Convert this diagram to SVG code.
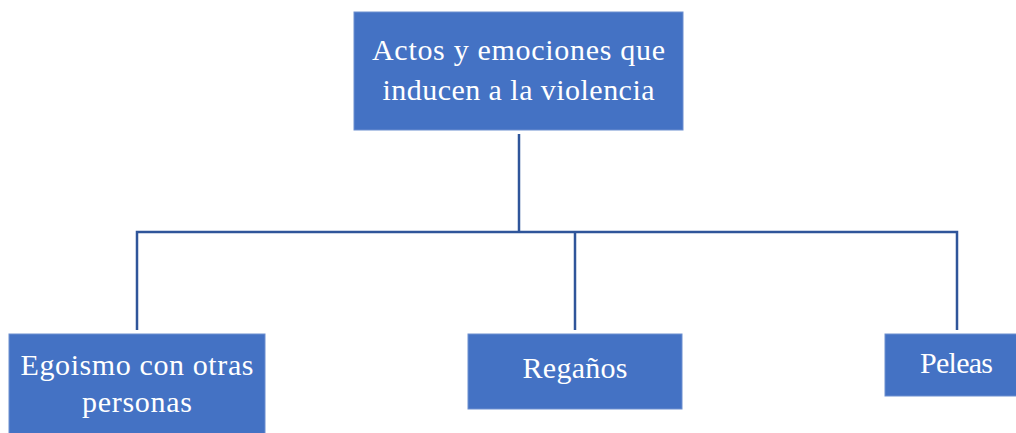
<svg xmlns="http://www.w3.org/2000/svg" width="1016" height="433" viewBox="0 0 1016 433">
<style>
.box{fill:#4472C4;stroke:#6D8FD0;stroke-width:1}
.t{font-family:"Liberation Serif","DejaVu Serif",serif;font-size:30px;fill:#FFFFFF;text-anchor:middle}
.c{fill:none;stroke:#2F559A;stroke-width:2.5}
</style>
<rect width="1016" height="433" fill="#FFFFFF"/>
<g id="connectors">
<path class="c" d="M519 134V232"/>
<path class="c" d="M137 330V232H957V330"/>
<path class="c" d="M575 232V330"/>
</g>
<g id="root">
<rect class="box" x="354" y="12" width="329" height="118"/>
<text class="t" x="518.5" y="60" textLength="293">Actos y emociones que</text>
<text class="t" x="518.5" y="100" textLength="272">inducen a la violencia</text>
</g>
<g id="egoismo">
<rect class="box" x="9" y="334" width="256" height="110"/>
<text class="t" x="137" y="375" textLength="233">Egoismo con otras</text>
<text class="t" x="137" y="412" textLength="110">personas</text>
</g>
<g id="reganos">
<rect class="box" x="468" y="334" width="214" height="75"/>
<text class="t" x="575" y="378" textLength="105">Regaños</text>
</g>
<g id="peleas">
<rect class="box" x="885" y="334" width="140" height="62"/>
<text class="t" x="956.5" y="373" textLength="73">Peleas</text>
</g>
</svg>
